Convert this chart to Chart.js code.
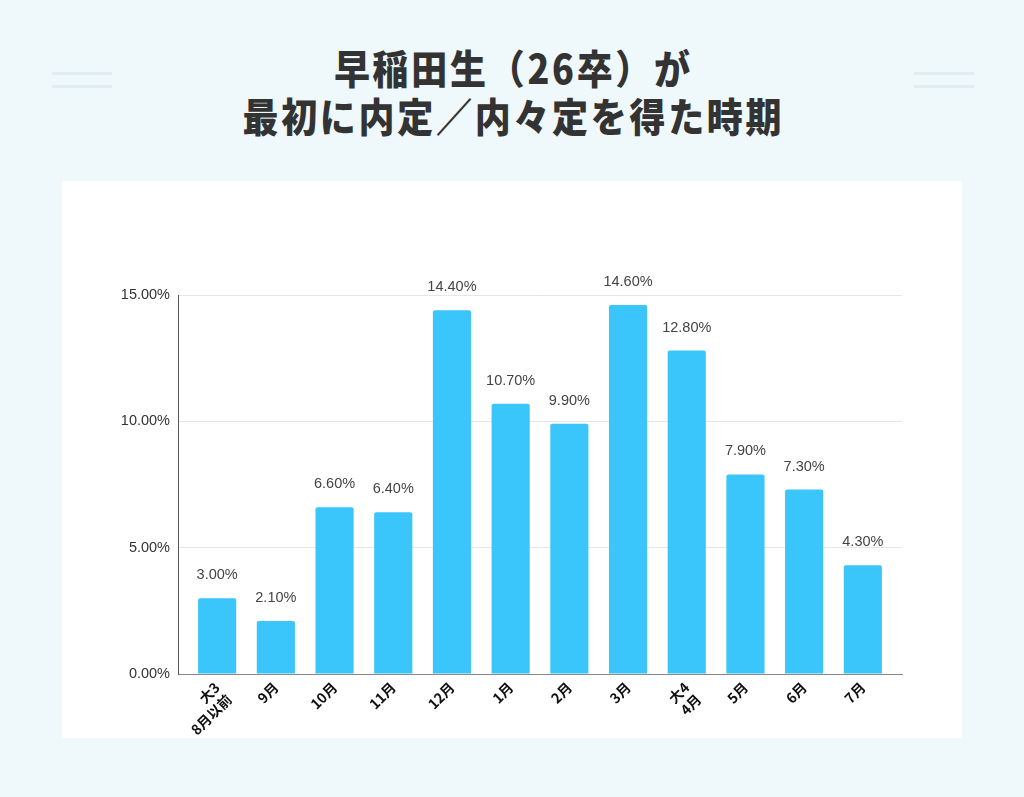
<!DOCTYPE html>
<html lang="ja">
<head>
<meta charset="utf-8">
<script src="https://cdn.jsdelivr.net/npm/chart.js@4/dist/chart.umd.min.js"></script>
<style>
  html, body { margin: 0; padding: 0; }
  body {
    width: 1024px; height: 797px; position: relative; overflow: hidden;
    background: #eff8fb;
    font-family: "Noto Sans CJK JP", "Noto Sans", sans-serif;
  }
  .title {
    position: absolute; left: 0; top: 43px; width: 1024px;
    text-align: center; font-weight: 900; font-size: 40px; line-height: 48px;
    letter-spacing: 3px; padding-left: 3px; box-sizing: border-box;
    color: #333; transform: scaleX(0.9); transform-origin: 512px 0;
  }
  .deco { position: absolute; width: 60px; height: 3px; background: #dfeef0; }
  .card { position: absolute; left: 62px; top: 181px; width: 900px; height: 557px; background: #fff; }
</style>
</head>
<body>
<div class="deco" style="left:52px; top:72px"></div>
<div class="deco" style="left:52px; top:85px"></div>
<div class="deco" style="left:914px; top:72px"></div>
<div class="deco" style="left:914px; top:85px"></div>
<div class="title">早稲田生（26卒）が<br>最初に内定／内々定を得た時期</div>
<div class="card"><canvas id="c" width="900" height="557"></canvas></div>
<script>
// categories and values
const categories = [['大3', '8月以前'], '9月', '10月', '11月', '12月', '1月', '2月', '3月', ['大4', '4月'], '5月', '6月', '7月']
const shares = [3.0, 2.1, 6.6, 6.4, 14.4, 10.7, 9.9, 14.6, 12.8, 7.9, 7.3, 4.3]
const yTicks = [0, 5, 10, 15]

// small inline plugin: value labels above each bar
const barLabels = {
  id: 'barLabels',
  afterDatasetsDraw(chart) {
    const ctx = chart.ctx
    const meta = chart.getDatasetMeta(0)
    ctx.save()
    ctx.font = '14.5px "Liberation Sans", Arial, sans-serif'
    ctx.fillStyle = '#444'
    ctx.textAlign = 'center'
    ctx.textBaseline = 'alphabetic'
    meta.data.forEach((bar, i) => {
      ctx.fillText(shares[i].toFixed(2) + '%', bar.x, bar.y - 19)
    })
    ctx.restore()
  }
}

// x is linear so the plot keeps a little room either side of the first/last bar
new Chart(document.getElementById('c'), {
  type: 'bar',
  data: {
    datasets: [{
      data: shares.map((v, i) => ({ x: i, y: v })),
      backgroundColor: '#3bc6fb',
      borderWidth: 0,
      borderRadius: 2,
      barPercentage: 0.65,
      categoryPercentage: 1,
    }],
  },
  options: {
    responsive: false,
    animation: false,
    devicePixelRatio: 1,
    layout: { padding: { left: 0, top: 114, right: 60, bottom: 0 } },
    plugins: { legend: { display: false }, tooltip: { enabled: false } },
    scales: {
      x: {
        type: 'linear',
        offset: false,
        min: -0.667, max: categories.length - 1 + 0.667,
        afterBuildTicks(scale) { scale.ticks = categories.map((_, i) => ({ value: i })) },
        grid: { display: false, drawTicks: false },
        border: { display: true, color: '#888', width: 1 },
        ticks: {
          color: '#111',
          font: { family: '"Noto Sans CJK JP", sans-serif', size: 14, weight: '700' },
          minRotation: 45, maxRotation: 45, autoSkip: false, padding: 5,
          callback: v => categories[v],
        },
        afterFit(scale) { scale.height = 64 },
      },
      y: {
        min: 0, max: 15,
        afterBuildTicks(scale) { scale.ticks = yTicks.map(v => ({ value: v })) },
        grid: { color: '#e6e6e6', drawTicks: false },
        border: { display: true, color: '#555', width: 1 },
        ticks: {
          color: '#333',
          font: { family: '"Liberation Sans", Arial, sans-serif', size: 14.5 },
          padding: 8,
          callback: v => v.toFixed(2) + '%',
        },
        afterFit(scale) { scale.width = 116 },
      },
    },
  },
  plugins: [barLabels],
})
</script>
</body>
</html>
